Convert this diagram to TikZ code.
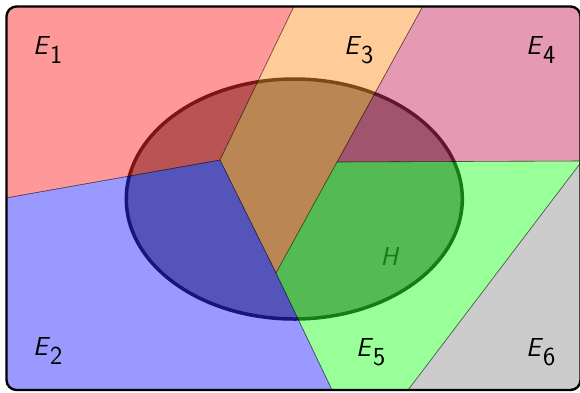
\documentclass[tikz,border=0pt]{standalone}
\begin{document}
\begin{tikzpicture}[x=1pt,y=-1pt,
  region/.style={fill=#1, draw=black, line width=0.6pt, opacity=0.4},
  lbl/.style={font=\fontsize{26}{30}\selectfont\sffamily, inner sep=0pt}]
\useasboundingbox (0,0) rectangle (580,392);
\coordinate (TL) at (0,0);
\coordinate (TR) at (582,0);
\coordinate (BL) at (0,392);
\coordinate (BR) at (582,392);
\coordinate (P) at (220,160);
\coordinate (Q) at (276,273);
\coordinate (R) at (337,162);
\coordinate (S) at (582,161);
\coordinate (T1) at (297,0);
\coordinate (T2) at (426.3,0);
\coordinate (L) at (0,199);
\coordinate (B1) at (333,392);
\coordinate (B2) at (406.5,392);
\begin{scope}
\clip[rounded corners=10pt] (6.5,6.5) rectangle (580.5,390);
% hyperplane H underneath
\draw[fill=black!45, draw=black!85, line width=3.5pt] (294.3,199) ellipse [x radius=168, y radius=120];
\node[lbl, text=black!85] (H) at (390,256) {$\textsf{\textit{H}}$};
% regions
\path[region=red] (TL) -- (T1) -- (P) -- (L) -- cycle;
\path[region=orange] (T1) -- (T2) -- (Q) -- (P) -- cycle;
\path[region=purple] (T2) -- (TR) -- (S) -- (R) -- cycle;
\path[region=green] (R) -- (S) -- (B2) -- (B1) -- (Q) -- cycle;
\path[region=gray] (S) -- (BR) -- (B2) -- cycle;
\path[region=blue] (L) -- (P) -- (Q) -- (B1) -- (BL) -- cycle;
\end{scope}
\draw[line width=2.4pt, rounded corners=10pt] (6.5,6.5) rectangle (580.5,390);
\node[lbl] (E1) at (48,50) {$\textsf{\textit{E}}_{\textsf{1}}$};
\node[lbl] (E2) at (48,351) {$\textsf{\textit{E}}_{\textsf{2}}$};
\node[lbl] (E3) at (359,50) {$\textsf{\textit{E}}_{\textsf{3}}$};
\node[lbl] (E4) at (541,50) {$\textsf{\textit{E}}_{\textsf{4}}$};
\node[lbl] (E5) at (371,352) {$\textsf{\textit{E}}_{\textsf{5}}$};
\node[lbl] (E6) at (541,352) {$\textsf{\textit{E}}_{\textsf{6}}$};
\end{tikzpicture}
\end{document}
